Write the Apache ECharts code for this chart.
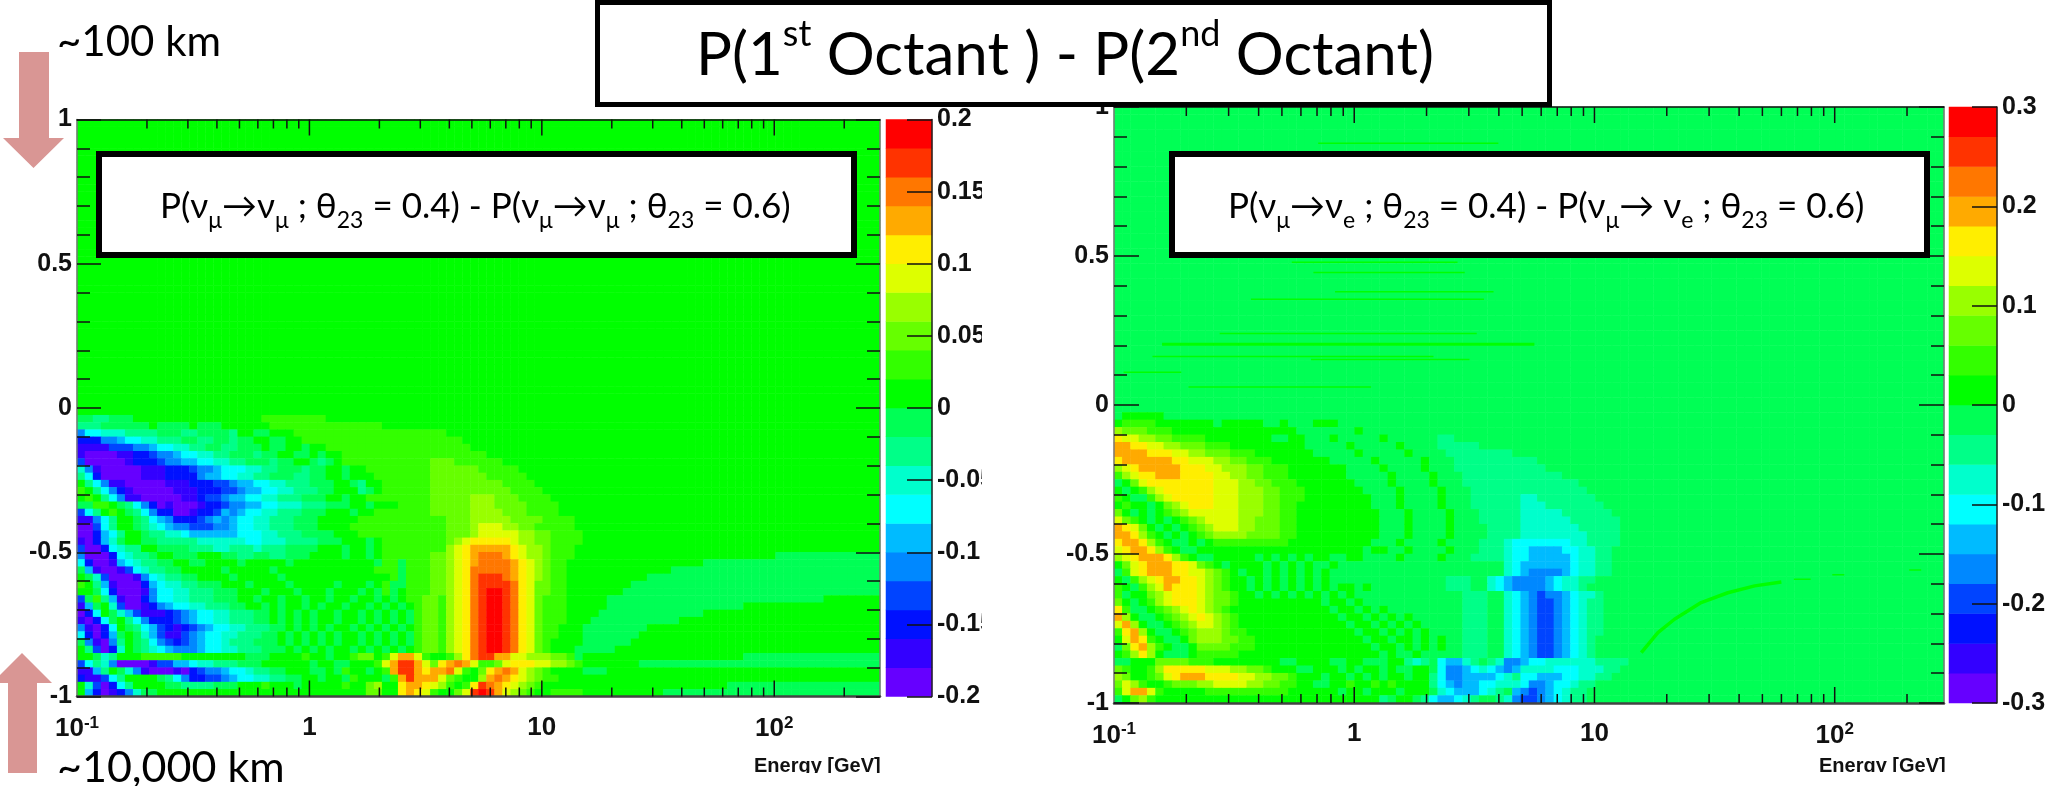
<!DOCTYPE html>
<html lang="en">
<head>
<meta charset="UTF-8">
<title>P(1st Octant) - P(2nd Octant)</title>
<style>
    html, body { margin: 0; padding: 0; background: #fff; }
    #chart { width: 2049px; height: 786px; }
</style>
</head>
<body>
<div id="chart"></div>
<script src="https://cdn.jsdelivr.net/npm/echarts@6/dist/echarts.min.js"></script>
<script>
// contour colours, lowest band first
const palette = ['#6600ff', '#3300ff', '#0011ff', '#0044ff', '#0088ff', '#00bbff', '#00ffff', '#00ffcc', '#00ff88', '#00ff55',
    '#00ff00', '#33ff00', '#66ff00', '#99ff00', '#ddff00', '#ffee00', '#ffaa00', '#ff7700', '#ff3300', '#ff0000'];

// Cells. Every row is run-length coded: a letter is a contour band
// (a = lowest, t = highest), the number says how many columns it covers.
// Rows go from cos(zenith) = 1 down to -1, columns from 0.1 GeV upward.
const muUpperRows = [
    'k100', 'k100', 'k100', 'k100', 'k100', 'k100', 'k100', 'k100', 'k100', 'k100',
    'k100', 'k100', 'k100', 'k100', 'k100', 'k100', 'k100', 'k100', 'k100', 'k100',
    'k100', 'k100', 'k100', 'k100', 'k100', 'k100', 'k100', 'k100', 'k100', 'k100',
    'k100', 'k100', 'k100', 'k100', 'k100', 'k100', 'k100', 'k100', 'k100', 'k100'
];
const muLowerRows = [
    'k100',
    'j2i2j3k16l8k69',
    'i3j6k1j4k1j3k6l14k62',
    'e1g2h3i4j3i2j4i1k2j2k3l19k54',
    'c3e2f1g2h2i3j2i2j2i1j2k2j2k2l20k52',
    'b4d3e2f1g2h2i2j2i2j3k1j2k2j1k2l18k51',
    'b1a4b2c2d1e2f1g2h2i2j3i1j2k2j2k1j1k2l18k49',
    'd1a5b1c3d1e2f2g2h2i2j3i1j2k2j1i1j1k1l11m3l6k47',
    'h1e1b1a5b3c3d1e2f1g3h2i2j3i1j2k2j1k2l8m6l5k45',
    'i1g1c1a5b3c4e1f2g2h2i2j3i2j2k2j1k3l7m7l5k44',
    'k1i1g1e1b2a5b3c3d2e1f2g2h2i3j3k2j1i1k2l6m9l4k43',
    'l1k1i1g1e1c1b1a5b3c3d2e1f2g2h2i3j2k3i1j1k1l6m10l4k42',
    'k1l1k1i1g1e1b2a5b2c1d2e1f2g2h2i3j3k2j1k2l8m5n3m3l4k41',
    'j2l2k1j1i1g1e1c1a1b1a3b1c2d1e2f2g2h3i3j3k2j1k3l4m5n3m4l4k40',
    'd1g1i1k1l1k1j1i1g1e1c2a2b1c2d1f1e1f1g2h2i3j3k3j1k2l7m5n4m3l4k40',
    'b2e1g1i1k2j1i1g1f1e1c3d1e1f1e1f1g2h2i3j3k5l11m3n5m4l4k38',
    'a2d1g1i1k2j1i1h1g1f1e2d3e2f1g2h2i3j3k4l12m3n1o3n2m2l5k38',
    'a2c1f1g1i1k2j1i2h2g1f6g3h2i3j4k3l11m3n1o5n2m2l4k37',
    'b1a1c1f1h1j1k2j2i5h6g2h3i4j3k3j1k1l8m1n1o1p5o1n2m2l4k37',
    'd1a2c1g1h1i2k2j1j3i3h2i3h1i3j4k3j1k2j1k1l8n1o1p1q5p1o1n2m1l3k38',
    'e1a3c1g1h1i2j1k2j3k3j2i2j2i2j3k4j1k2j1k1l6m2n1o1p1q1r3q1p1o1n2m1l3k25j13',
    'g1c1a2b1f1g1h1i2j2k2j2k4j1k5j1k10j1l2j1l3m2n1o1p1q1r4q1p1o1n1m1l2k17j22',
    'j1f1b1a2b1d1g1h1i2j2k5j1k5j1k12l3j1l3m2n1o1p1r5q1p1o1n1m1l2k13j26',
    'k1j1h1d1a3b1e1g1h1i2j2k4j1k5j1k13l1j1l3m2n1o1p1r1s3r1q1p1o1n1m1l2k10j29',
    'l1k1i1f1b1a3c1f1g1h2i2j3k3j1k4j1k5j1k3j1k1l1j2l3m2n1o1p1r1s4r1p1o1m2l2k8j31',
    'k2j1g1c1a3b1e1g2h2i3j3k3j1k3j1k3j1k3j1k1j1l1j1k1l3m2n1o1p1r1s1t2s1r1p1o1m2l2k7j32',
    'd1j1l1i1f1b1a2c1e1g2h2i3j3k2j1k2j1k2j1k2j1k2j1k2j1k1j1k1l2m2l1n1o1p1r1s1t2s1r1p1o1m1l3k5j27k7',
    'b1f1j1k1h1d1a2b1c1e1f1g2h2i3j2k2j1k1j1k2j1k1j1k2j1k2j1k1j1k1j1k1l1m2l1n1o1p1r1s1t2s1r1p1o1m1l3k5j17k17',
    'a1c1g1k1j1h1f1d1b3c1d1e1f1g2h2i3j2k1j1k1j1k1j1k2j1k2j1k1j1k1j1k1j1l1m2l1n1o1p1r1s1t2s1r1p1o1m1l3k4j13k22',
    'b1a1c1g1j1k1i1g1e1c3d1e1f1g2h2i3j2k1j1k1j1k1j1k2j1k2j1k1j1k1j1k1j1l1m2l1n1o1p1r1s1t2s1r1p1o1m1l3k3j11k25',
    'e1b1a1c1g1k1j1i1g1f1d1c1b1c1d1e1f1g2h2i3j2k1j1k1j1k1j1k2j1k1j1k1j1k1j1k1l1m2l1n1o1p1r1s1t2s1r1p1o1m1l2k3j8k29',
    'g1c1a1c1f1j1k1j1h1f1d1b2d1e1f1g2h2i3j2k1j1k1j1k1j1k1j1k2j1k1j1k1j1k1j1l1m2l1n1o1p1r1s1t2s1r1p1o1m1l2k3j7k30',
    'j1e1b1a1e1i1k1j1i1g1e1d1c1d1e1f1g2h1i3j3k1j1k1j1k1j1k1j1k2j1k1j1k1j1k1j1l1m2l1n1o1p1r1s1t2s1r1p1o1m1l1k4j6k31',
    'k1i1d1a1c1h1k1j1i1h1g1f1e3f1g2h2i3j3k1j1k1j1k1j1k2j1k1j1k1j1k1j1k1l1m2l1n1o1p1r1s1t2s1r1p1o1m1l1k3j5k33',
    'k2j1h1i1k3l5k8j3k4l1k2j1k2l1m2k1l1o1q2o1l1k2l1n1p1r1s2q2o2n3m2l1j1k20j17',
    'd1g1i1h1e1a4b1d2f2g1h2i3j3k6j1k2j2k3l1o1q1s2q1o1m1p1q1r1q1o1l2m1o1p3o2n2m1l1k7j30',
    'b2f1i1k1j1h1e1b1a3b1a1c1d1e2f1g2h1i2j2k3j2k1j1l1k2j1k1l1q1s2q1p1q2r1o1l1k1m1p1q1r1q1o1n1m1l1k4j3k34',
    'c1b2d1g1i1k4j1i1g1e1c2d2e1f1g2h2i2j2k2j1k2j1l1k3j1l1q1s1q3o1m1l1k2n1q1r1q1p1o1n1m1l2k40',
    'k1h1d1a1c1g1i1k4j2i4j3k3l1k3j1k1k4l1k2m1n1k2p1q2p1o1n1l1k1l1p1s1r1q1p1o1n1m1l1k23j19',
    'k1f1c1a1b1c1e1h1j2k26m2k2p1q1p1o1l1k2m1o1s1t1s1q1o1n1m1l1k2l4k10j27'
];

const eUpperRows = [
    'j100', 'j100', 'j100', 'j100', 'j100', 'j100', 'j100', 'j100', 'j100', 'j100',
    'j100', 'j100', 'j100', 'j100', 'j100', 'j100', 'j100', 'j100', 'j100', 'j100',
    'j100', 'j100', 'j100', 'j100', 'j100', 'j100', 'j100', 'j100', 'j100', 'j100',
    'j100', 'j100', 'j100', 'j100', 'j100', 'j100', 'j100', 'j100', 'j100', 'j100'
];
const eLowerRows = [
    'j100',
    'j1k5j94',
    'k1l4k7j1k5j2k1j3k3j73',
    'n1m3l3k15j7k1j70',
    'p1o2n2m2l4k8j2k2j3k1j5k1j6i2j59',
    'q2p2o2n2m3l3k9j5k1j5k1j4i5j56',
    'q4p3o2n2m3l3k7j5k1j5k1j4i8j52',
    'p1q6p2o3n2m2l3k7j5k1j5k1j3i10j49',
    'n1o1p1q5p3o2n3m2l3k7j4k1j4k1j3i11j48',
    'l1n1o1p2q3p4o2n2m2l3k7j5k1j4k1j3i12j46',
    'j1k1m1o1p8o3n2m2l3k7j4k1j4k1j3i14j44',
    'k1j1k1l1n1o1p6o3n3m2l3k7j4k1j4k1j3i14j43',
    'l1k1j2l1n1o1p5o3n3m2l3k8j3k1j4k1j3i6h2i7j42',
    'k1l1k2j1k1m1n1o1p3o3n3m2l2k9j3k1j4k1j3i6h3i7j41',
    'm1k1j1k1j1k1l1m1n1o6n3m2l2k10j3k1j4k1j3i5h5i6j40',
    'o1m1l1k1j1k1j1k1l1m1n1o4n2m3l2k10j3k1j4k1j3i5h6i6j39',
    'q1p1o1m1k1j1k1j1k1l1m1n1o3n2m3l2k10j3k1j4k1j4i4h7i5j39',
    'q2p1n1l1k1j1k1j1k1l1m1n4m4l2k10j3k1j4k1j4i4h8i4j39',
    'p1q2p1n1l1k1j2k1j1k1l9k10j3k1j4k1j4i3h1g7h2i4j39',
    'o1p1q2p1n1l1k1j2k20j1k2j2k1j4k1j3i3h1g2f4g2h2i2j40',
    'n1o1p1q3p1n1l1k1j2k5j1k1j1k1j1k1j1k2j2k2j4k1j4k1j3i4h1g2f5g1h2i2j40',
    'k1m1o1p1q3p2o1m1l1k1j1k4j1k1j1k1j1k1j2k1j20h1g1f6g1h2i2j40',
    'j1l1o1p1q3p2o2n1m1l1k1j1k2j1k1j1k1j1k1j1k1j21h1g1f1e4f1g1h2i2j40',
    'k1j1l1n1o1p1q2p2o1n1m1l1k2j1k1j1k1j1k1j1k1j1k1j14i3j2h1g1f1e4f1g1h2i2j40',
    'l1k1j1l1n1o1q1p3o1n1m1l1k2j1k1j1k1j1k1j1k1j1k1j1k2j1k1j9i3j2h1g1f1e4f1g1h2i1j41',
    'l1j1k2m1n1o1p3o1n1m2l1k2j1k1j1k1j1k1j1k1j1k1j1k1j13i3j2h1g1f1e1d1e2f1g1h2i1j41',
    'm1k1j1k1l1n1o1p3o1n1m2l1k10j1k2j1k1j12i3j2h1g1f1e1d2e1f1g1h1i2j41',
    'p1l1j2k1l1m1n1o1p1o1n1m1l1k12j1k2j1k1j1k1j9i3j2h1g1f1e1d2e1f1g1h1i2j41',
    'q1n1k1j2k1l1m1n1o1p1o1n1m1l1k12j1k2j1k1j1k1j1k1j6i3j2h1g1f1e1d2e1f1g1h1i2j41',
    'o1q1n1k1j2k1l1m1n1o2n1m1l1k13j1k2j1k1j1k1j1k1j5i3j2h1g1f1e1d2e1f1g1h1i2j41',
    'l1p1q1n1k1j2k1l1m1n3m1l2k13j1k2j1k1j1k1j1k1j4i3j2h1g1f1e1d2e1f1g1h1i2j41',
    'k1o1q1p1l1k1j2k1m1n3m2l2k13j1k2j1k2j1k1j1k1j2i3j2h1g1f1e1d2e1f1g1h1i1j42',
    'j1m1p1q1n1l1k1j2k1m4l3k14j1k2j1k1j1k1j1k1j2i3j2h1g1f1e1d2e1f1g1h1i1j42',
    'k1l1n1p1n1k1j3k1l5k17j1k1j2k1j5i3j2h1g1f1e1d2e1f1g1h1i1j42',
    'j2k3m4l3k8j2k4j2k2j3k2i1h1i1j1g1f2h1i1j1i1h1e2f1g2h6i4j38',
    'm1l1k2l1n1p5o3n2m2l1k3j2k3j1k1j1k2j1k1j2k2j1g1e2f1g1h1g1f1e1f1h4g3h3i2j39',
    'n1m1k2l1m1o1p1q3p4o2n2m2l1k3j1k2j1k1j1k1j1k2j1k2i1g1e2f4g1h1i1g2f3g2h2i2j40',
    'm1o1n1l1k2l1m3n2o4n2m2l2k2j2k2l1k2l1k1l1k4i1g1f1e1f2g2h2h1g1e2f1g2h1i2j42',
    'l1o1q2o1l1k5l10k6j1k2j1k3j1k3j1h1g1f3g1h1i1j1f1e1d1e1f1g1h1i2j43',
    'j1k1m1n1l1k27i1j1k2j1i1g1f2g1h1i1j2i1h1e1d2e1f1g1h1i2j43'
];

// thin ridges in the nu_e panel: log10(E) from, log10(E) to, cos(zenith)
const eStreaks = [
    [-0.15, 0.6, 0.878], [0.11, 0.65, 0.496], [-0.26, 0.43, 0.479], [-0.17, 0.46, 0.445], [-0.08, 0.58, 0.38],
    [-0.43, 0.54, 0.355], [-0.56, 0.51, 0.24], [-0.8, 0.75, 0.204], [-0.84, 0.33, 0.163], [-0.18, 0.48, 0.153],
    [-0.96, -0.72, 0.11], [-0.69, 0.07, 0.06], [1.83, 1.9, -0.585], [1.99, 2.04, -0.57], [2.31, 2.36, -0.554]
];
const eArcLogE = [1.195, 1.264, 1.333, 1.444, 1.555, 1.667, 1.778];
const eArcCos = [-0.831, -0.764, -0.719, -0.663, -0.63, -0.607, -0.594];

// tick labels
const muBarTicks = [-0.2, 0.2, 0.05];
const eBarTicks = [-0.3, 0.3, 0.1];
const energyLabels = [0.1, 1, 10, 100];
const energyMajorTicks = [1, 10, 100];
const energyMinorTicks = [0.2, 0.3, 0.4, 0.5, 0.6, 0.7, 0.8, 0.9, 2, 3, 4, 5, 6, 7, 8, 9, 20, 30, 40, 50, 60, 70, 80, 90, 200];
const logEnergyMax = 2.455;

const columns = 100;
const bands = palette.length;

function decodeRow(row, fill) {
    let cells = [];
    row.replace(/([a-t])(\d+)/g, (m, letter, count) => {
        for (let i = 0; i < +count; i++) cells.push(letter.charCodeAt(0) - 97);
        return m;
    });
    while (cells.length < columns) cells.push(fill);
    return cells.slice(0, columns);
}

function cellData(upper, lower, fill, lim) {
    let rows = upper.concat(lower);
    let step = 2 * lim / bands;
    let data = [];
    rows.forEach((row, r) => {
        decodeRow(row, fill).forEach((band, c) => {
            data.push([c, rows.length - 1 - r, -lim + (band + 0.5) * step]);
        });
    });
    return data;
}

function range(n) {
    return Array.from({ length: n }, (v, i) => i);
}

const numFont = '"Liberation Sans", Arial, sans-serif';
const slideFont = 'Lato, "Noto Sans", sans-serif';
const tickColor = '#111';

function energyLabel(v) {
    if (v < -0.5) return '10{sup|-1}';
    if (v > 1.5) return '10{sup|2}';
    return String(Math.round(Math.pow(10, v)));
}

let xAxes = [], yAxes = [], grids = [], series = [], visualMaps = [];

function addPanel(rect, barRect, upper, lower, fill, lim, barTick, majorLen, minorLen) {
    let gi = grids.length;
    grids.push({ left: rect.left, top: rect.top, width: rect.width, height: rect.height, containLabel: false });
    grids.push({ left: barRect.left, top: barRect.top, width: barRect.width, height: barRect.height, containLabel: false });

    let xi = xAxes.length, yi = yAxes.length;
    let rowCount = upper.length + lower.length;
    xAxes.push({ type: 'category', gridIndex: gi, show: false, data: range(columns) });
    yAxes.push({ type: 'category', gridIndex: gi, show: false, data: range(rowCount) });

    // energy axes run in log10(E)
    let logAxis = (position, lineStyle, labels) => ({
        type: 'value', gridIndex: gi, position: position, min: -1, max: logEnergyMax, z: 10,
        axisLine: { show: true, onZero: false, lineStyle: lineStyle },
        splitLine: { show: false },
        minorTick: { show: false },
        axisTick: { show: false },
        axisLabel: labels ? {
            show: true, customValues: energyLabels.map(Math.log10), margin: 18, showMinLabel: true, hideOverlap: false,
            color: '#111', fontFamily: numFont, fontWeight: 'bold', fontSize: 26,
            formatter: energyLabel,
            rich: { sup: { fontFamily: numFont, fontWeight: 'bold', fontSize: 17, verticalAlign: 'top', padding: [0, 0, 12, 0], color: '#111' } }
        } : { show: false }
    });
    let logIndex = xAxes.length;
    xAxes.push(logAxis('bottom', { color: '#444', width: 2.5 }, true));
    xAxes.push(logAxis('top', { color: '#111', width: 1.5 }, false));

    let cosAxis = (position, labels) => ({
        type: 'value', gridIndex: gi, position: position, min: -1, max: 1, interval: 0.5, z: 10,
        axisLine: { show: true, onZero: false, lineStyle: { color: '#777', width: 1.5 } },
        splitLine: { show: false },
        axisTick: { show: true, inside: true, length: majorLen.y, lineStyle: { color: tickColor, width: 1.5 } },
        minorTick: { show: true, splitNumber: 5, length: minorLen.y, lineStyle: { color: tickColor, width: 1.5 } },
        axisLabel: labels ? { show: true, margin: 5, color: '#111', fontFamily: numFont, fontWeight: 'bold', fontSize: 25 } : { show: false }
    });
    let cosIndex = yAxes.length;
    yAxes.push(cosAxis('left', true));
    yAxes.push(cosAxis('right', false));

    series.push({
        type: 'heatmap', xAxisIndex: xi, yAxisIndex: yi, silent: true, progressive: 0,
        data: cellData(upper, lower, fill, lim)
    });
    let heatIndex = series.length - 1;

    // colour bar
    let bxi = xAxes.length, byi = yAxes.length;
    xAxes.push({ type: 'category', gridIndex: gi + 1, show: false, data: ['z'] });
    yAxes.push({ type: 'category', gridIndex: gi + 1, show: false, data: range(bands) });
    yAxes.push({
        type: 'value', gridIndex: gi + 1, position: 'right', min: barTick[0], max: barTick[1], interval: barTick[2], z: 10,
        axisLine: { show: true, onZero: false, lineStyle: { color: '#222', width: 1.5 } },
        splitLine: { show: false },
        axisTick: { show: true, inside: true, length: 25, lineStyle: { color: tickColor, width: 1.5 } },
        axisLabel: {
            show: true, margin: 5, color: '#111', fontFamily: numFont, fontWeight: 'bold', fontSize: 25,
            formatter: v => String(+v.toFixed(2))
        }
    });
    series.push({
        type: 'heatmap', xAxisIndex: bxi, yAxisIndex: byi, silent: true, progressive: 0,
        data: range(bands).map(b => [0, b, -lim + (b + 0.5) * 2 * lim / bands])
    });

    visualMaps.push({
        type: 'piecewise', show: false, min: -lim, max: lim, splitNumber: bands,
        seriesIndex: [heatIndex, series.length - 1],
        inRange: { color: palette }
    });
    return { logIndex: logIndex, cosIndex: cosIndex, rect: rect, majorLen: majorLen.x, minorLen: minorLen.x };
}

let muPanel = addPanel({ left: 77, top: 119.5, width: 803, height: 577 }, { left: 886, top: 119.5, width: 46, height: 577 },
    muUpperRows, muLowerRows, 10, 0.2, muBarTicks, { x: 16, y: 24 }, { x: 9, y: 13 });
let ePanel = addPanel({ left: 1114, top: 107, width: 830, height: 596 }, { left: 1949, top: 107, width: 48, height: 596 },
    eUpperRows, eLowerRows, 9, 0.3, eBarTicks, { x: 16, y: 25 }, { x: 9, y: 13 });

function ridge(points, width) {
    return {
        type: 'line', xAxisIndex: ePanel.logIndex, yAxisIndex: ePanel.cosIndex, silent: true, z: 3,
        symbol: 'none', data: points, lineStyle: { color: '#00ff00', width: width }
    };
}
eStreaks.forEach((s, i) => {
    series.push(ridge([[s[0], s[2]], [s[1], s[2]]], i === 7 ? 3 : 1.5));
});
series.push(ridge(eArcLogE.map((x, i) => [x, eArcCos[i]]), 3.5));

function box(x, y, w, h, lw) {
    return { type: 'rect', z: 100, shape: { x: x, y: y, width: w, height: h }, style: { fill: '#fff', stroke: '#000', lineWidth: lw } };
}

function slideText(x, y, text, size) {
    return {
        type: 'text', z: 101, x: x, y: y,
        style: { text: text, fontFamily: slideFont, fontSize: size, fill: '#000', align: 'left', verticalAlign: 'middle' }
    };
}

function formulaText(x, y, text) {
    return {
        type: 'text', z: 101, x: x, y: y,
        style: {
            text: text, fontFamily: slideFont, align: 'left', verticalAlign: 'middle', fill: '#000',
            rich: {
                b: { fontFamily: slideFont, fontSize: 35, lineHeight: 50, fill: '#000' },
                s: { fontFamily: slideFont, fontSize: 23, lineHeight: 50, verticalAlign: 'bottom', fill: '#000' }
            }
        }
    };
}

// energy ticks on both horizontal edges, spaced like the log10(E) axes above
function energyTickLines(panel, values, len) {
    let r = panel.rect;
    let lines = [];
    values.forEach(v => {
        let x = r.left + (Math.log10(v) + 1) / (logEnergyMax + 1) * r.width;
        let bottom = r.top + r.height;
        lines.push({ type: 'line', z: 95, silent: true, shape: { x1: x, y1: bottom, x2: x, y2: bottom - len }, style: { stroke: tickColor, lineWidth: 1.5 } });
        lines.push({ type: 'line', z: 95, silent: true, shape: { x1: x, y1: r.top, x2: x, y2: r.top + len }, style: { stroke: tickColor, lineWidth: 1.5 } });
    });
    return lines;
}

const arrowColor = '#d99694';

let graphics = [
    // white masks where the pasted plots were cropped
    { type: 'rect', z: 90, shape: { x: 982, y: 100, width: 62, height: 640 }, style: { fill: '#fff' } },
    { type: 'polygon', z: 100, shape: { points: [[19, 52], [49, 52], [49, 138], [64, 138], [33.5, 168], [3, 138], [19, 138]] }, style: { fill: arrowColor } },
    { type: 'polygon', z: 100, shape: { points: [[8, 773], [37, 773], [37, 683], [52, 683], [22, 653], [-8, 683], [8, 683]] }, style: { fill: arrowColor } },
    slideText(57, 42, '~100 km', 42),
    slideText(57, 768, '~10,000 km', 43),
    box(597.5, 2.5, 952, 102, 5),
    {
        type: 'text', z: 101, x: 696, y: 56,
        style: {
            text: '{b|P(1}{s|st}{b| Octant ) - P(2}{s|nd}{b| Octant)}', fontFamily: slideFont, align: 'left', verticalAlign: 'middle', fill: '#000',
            rich: {
                b: { fontFamily: slideFont, fontSize: 60, lineHeight: 80, fill: '#000' },
                s: { fontFamily: slideFont, fontSize: 36, lineHeight: 80, verticalAlign: 'top', fill: '#000' }
            }
        }
    },
    box(99, 154, 755, 101, 6),
    formulaText(160, 207, '{b|P(ν}{s|μ}{b|→ν}{s|μ}{b| ; θ}{s|23}{b| = 0.4) - P(ν}{s|μ}{b|→ν}{s|μ}{b| ; θ}{s|23}{b| = 0.6)}'),
    box(1172, 154, 755, 101, 6),
    formulaText(1228, 207, '{b|P(ν}{s|μ}{b|→ν}{s|e}{b| ; θ}{s|23}{b| = 0.4) - P(ν}{s|μ}{b|→ ν}{s|e}{b| ; θ}{s|23}{b| = 0.6)}'),
    { type: 'text', z: 91, x: 754, y: 766, style: { text: 'Energy [GeV]', fontFamily: numFont, fontWeight: 'bold', fontSize: 20, fill: '#111', align: 'left', verticalAlign: 'middle' } },
    { type: 'text', z: 91, x: 1819, y: 766, style: { text: 'Energy [GeV]', fontFamily: numFont, fontWeight: 'bold', fontSize: 20, fill: '#111', align: 'left', verticalAlign: 'middle' } },
    { type: 'rect', z: 92, shape: { x: 740, y: 773, width: 160, height: 13 }, style: { fill: '#fff' } },
    { type: 'rect', z: 92, shape: { x: 1800, y: 772, width: 160, height: 14 }, style: { fill: '#fff' } }
].concat(
    energyTickLines(muPanel, energyMajorTicks, muPanel.majorLen),
    energyTickLines(muPanel, energyMinorTicks, muPanel.minorLen),
    energyTickLines(ePanel, energyMajorTicks, ePanel.majorLen),
    energyTickLines(ePanel, energyMinorTicks, ePanel.minorLen)
);

let chart = echarts.init(document.getElementById('chart'), null, { renderer: 'canvas' });
chart.setOption({
    animation: false,
    backgroundColor: '#fff',
    grid: grids,
    xAxis: xAxes,
    yAxis: yAxes,
    visualMap: visualMaps,
    series: series,
    graphic: { elements: graphics }
});
</script>
</body>
</html>
